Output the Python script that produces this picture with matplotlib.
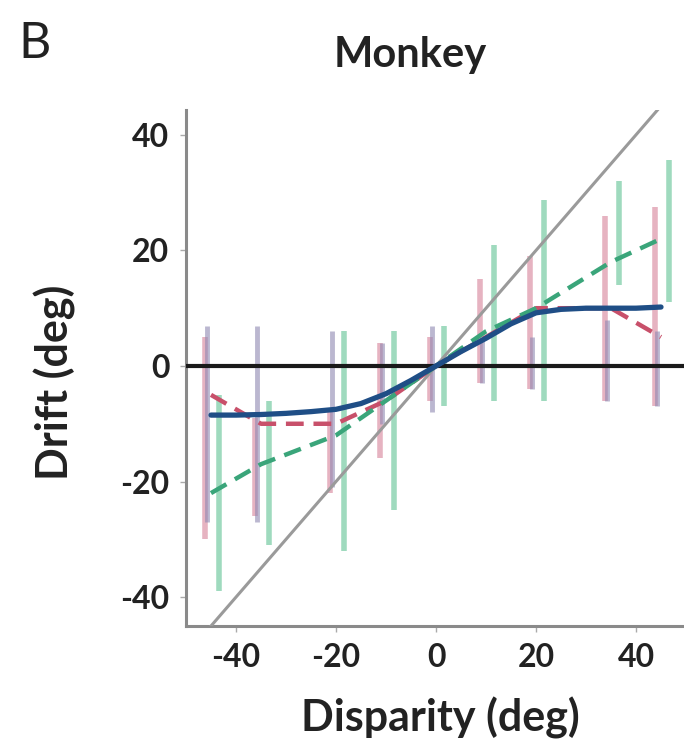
import matplotlib
matplotlib.use("Agg")
import matplotlib.pyplot as plt
import numpy as np

# ---------------- data ----------------
disparities = [-45, -35, -20, -10, 0, 10, 20, 35, 45]

# vertical spread of individual trials per condition (high / low ends)
red_hi = [5, -9, -8, 4, 5, 15, 19, 26, 27.5]
red_lo = [-30, -26, -22, -16, -6, -3, -4, -6, -7]
blue_hi = [7, 7, 6, 4, 7, 5, 5, 8, 6]
blue_lo = [-27, -27, -21, -10, -8, -3, -4, -6, -7]
green_hi = [-5, -6, 6, 6, 7, 21, 28.7, 32, 35.6]
green_lo = [-39, -31, -32, -25, -7, -6, -6, 14, 11]

# mean drift per condition
red_mean = [-5, -10, -10, -6, 0, 5, 10, 10, 5]
green_mean = [-22, -17, -12, -6, 0, 6, 10, 18, 22]

# smooth model fit (blue)
fit_x = [-45, -40, -35, -30, -25, -20, -15, -10, -5, 0, 5, 10, 15, 20, 25, 30, 35, 40, 45]
fit_y = [-8.5, -8.5, -8.4, -8.2, -7.9, -7.5, -6.5, -4.8, -2.5, 0, 2.5, 4.8, 7.3, 9.2, 9.8, 10, 10, 10, 10.2]

xticks = [-40, -20, 0, 20, 40]
yticks = [-40, -20, 0, 20, 40]

# ---------------- styling ----------------
FONT = "Lato"
RED = "#c8506a"
RED_PTS = "#d98aa0"
BLUE_PTS = "#8e88b2"
GREEN = "#3aa57a"
GREEN_PTS = "#6cc79c"
BLUE = "#1f4e86"
TXT = "#222222"

fig = plt.figure(figsize=(6.84, 7.49), dpi=100)
ax = fig.add_axes([186 / 684, 1 - 626 / 749, 1 - 186 / 684, (626 - 110) / 749])

d = np.array(disparities, dtype=float)
ax.vlines(d - 1.3, red_lo, red_hi, color=RED_PTS, lw=4, alpha=0.65, zorder=2)
ax.vlines(d - 0.8, blue_lo, blue_hi, color=BLUE_PTS, lw=3.5, alpha=0.6, zorder=2)
ax.vlines(d + 1.5, green_lo, green_hi, color=GREEN_PTS, lw=4, alpha=0.65, zorder=2)

lim = [-50, 50]
ax.plot(lim, lim, color="#9a9a9a", lw=2.2, zorder=3)
ax.axhline(0, color="#1a1a1a", lw=3.0, zorder=4)

ax.plot(disparities, red_mean, color=RED, lw=3.2, dashes=(4, 2.2), zorder=5)
ax.plot(disparities, green_mean, color=GREEN, lw=3.2, dashes=(4, 2.2), zorder=5)
ax.plot(fit_x, fit_y, color=BLUE, lw=3.8, zorder=6, solid_capstyle="round")

ax.set_xlim(-50, 49.6)
ax.set_ylim(-45, 44.3)
ax.set_xticks(xticks)
ax.set_yticks(yticks)
ax.set_xticklabels([str(v) for v in xticks], fontfamily=FONT, fontweight="bold", fontsize=23, color=TXT)
ax.set_yticklabels([str(v) for v in yticks], fontfamily=FONT, fontweight="bold", fontsize=23, color=TXT)
ax.tick_params(axis="both", length=4, width=1, color="#aaaaaa", pad=8)

for s in ["top", "right"]:
    ax.spines[s].set_visible(False)
for s in ["left", "bottom"]:
    ax.spines[s].set_color("#8a8a8a")
    ax.spines[s].set_linewidth(2.2)

ax.set_xlabel("Disparity (deg)", fontfamily=FONT, fontweight="bold", fontsize=31, color=TXT)
ax.set_ylabel("Drift (deg)", fontfamily=FONT, fontweight="bold", fontsize=31, color=TXT)
ax.xaxis.set_label_coords((440 - 186) / 498, (626 - 718) / 516)
ax.yaxis.set_label_coords((55 - 186) / 498, (626 - 382) / 516)
ax.xaxis.label.set_va("center")
ax.yaxis.label.set_va("center")

fig.text(410 / 684, 1 - 55 / 749, "Monkey", ha="center", va="center",
         fontfamily=FONT, fontweight="bold", fontsize=30, color=TXT)
fig.text(18 / 684, 1 - 44 / 749, "B", ha="left", va="center",
         fontfamily=FONT, fontsize=36, color=TXT)

fig.savefig("out.png", dpi=100)
